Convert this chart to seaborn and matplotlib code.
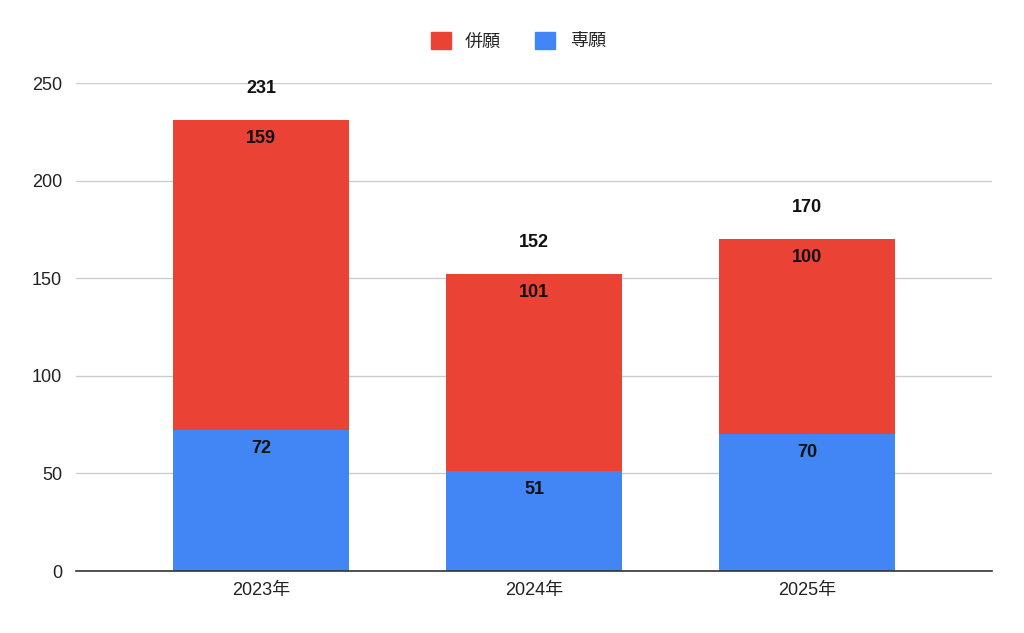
import numpy as np
import pandas as pd
import matplotlib
matplotlib.use("Agg")
import matplotlib.pyplot as plt
import seaborn as sns
from matplotlib.patches import Patch

years = ["2023年", "2024年", "2025年"]
heigan = [159, 101, 100]   # 併願
sengan = [72, 51, 70]      # 専願
totals = [h + s for h, s in zip(heigan, sengan)]

red = "#EA4335"
blue = "#4285F4"

sns.set_theme(style="white")
plt.rcParams["font.family"] = ["Liberation Sans", "Noto Sans CJK JP", "DejaVu Sans"]

df = pd.DataFrame({"year": years, "total": totals, "sengan": sengan, "heigan": heigan})

fig = plt.figure(figsize=(10.24, 6.33), dpi=100)
ax = fig.add_axes([76 / 1024, 62 / 633, 916 / 1024, 488 / 633])

sns.barplot(data=df, x="year", y="total", color=red, width=0.645, saturation=1,
            linewidth=0, ax=ax)
sns.barplot(data=df, x="year", y="sengan", color=blue, width=0.645, saturation=1,
            linewidth=0, ax=ax)

ax.set_xlim(-0.678, 2.678)
ax.set_ylim(0, 250)
ax.set_yticks(range(0, 251, 50))
ax.yaxis.grid(True, color="#cccccc", linewidth=1)
ax.set_axisbelow(True)
for s in ["top", "right", "left"]:
    ax.spines[s].set_visible(False)
ax.spines["bottom"].set_color("#333333")
ax.spines["bottom"].set_linewidth(1.2)
ax.tick_params(axis="both", length=0, labelsize=13, colors="#222222", pad=8)
ax.tick_params(axis="y", pad=10)
ax.set_xlabel("")
ax.set_ylabel("")

for i in range(len(years)):
    ax.annotate(str(totals[i]), (i, totals[i]), xytext=(0, 23), textcoords="offset points",
                ha="center", va="center", fontsize=13, fontweight="bold", color="#111111",
                annotation_clip=False)
    ax.annotate(str(heigan[i]), (i, totals[i]), xytext=(0, -13), textcoords="offset points",
                ha="center", va="center", fontsize=13, fontweight="bold", color="#111111")
    ax.annotate(str(sengan[i]), (i, sengan[i]), xytext=(0, -13), textcoords="offset points",
                ha="center", va="center", fontsize=13, fontweight="bold", color="#111111")

handles = [Patch(color=red, label="併願"), Patch(color=blue, label="専願")]
fig.legend(handles=handles, loc="center", bbox_to_anchor=(0.506, 1 - 41 / 633), ncol=2,
           frameon=False, fontsize=13, handlelength=1.1, handleheight=1.1,
           columnspacing=1.9, handletextpad=0.8)

fig.savefig("out.png", dpi=100)
